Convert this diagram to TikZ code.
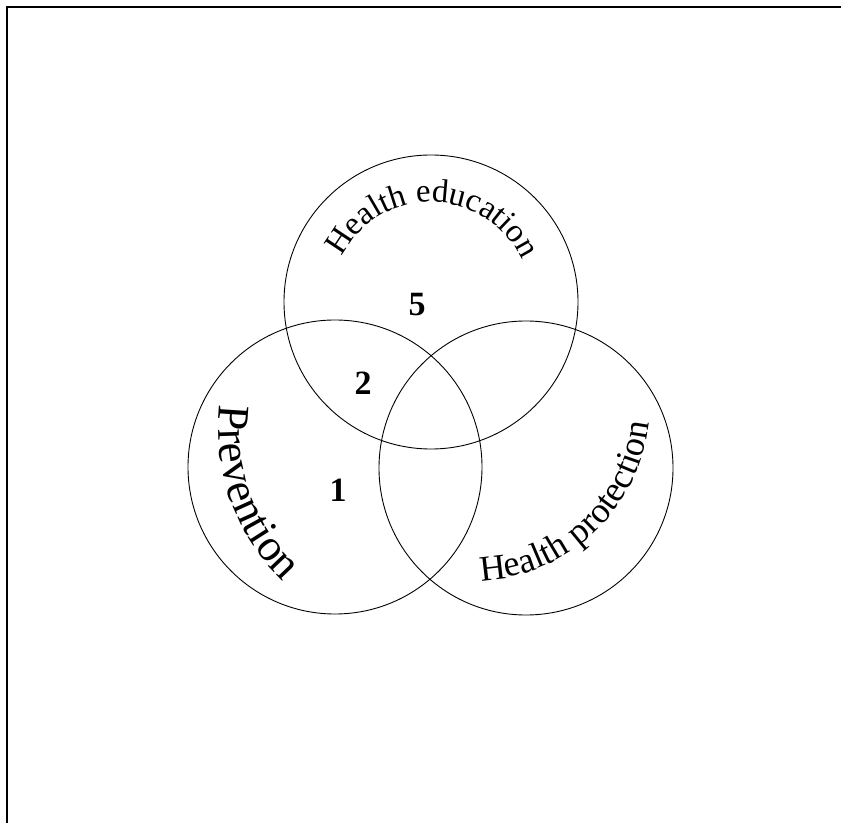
\documentclass[tikz,border=0pt]{standalone}
\usepackage{fontspec}
\setmainfont{Liberation Serif}
\usetikzlibrary{decorations.text}
\newcommand{\numtext}[1]{{\fontsize{34}{40}\selectfont\bfseries #1}}
\begin{document}
\begin{tikzpicture}[x=1pt,y=1pt,
  ring/.style={circle, draw, line width=0.9pt, minimum size=294pt, inner sep=0pt},
  num/.style={inner sep=0pt},
  frameline/.style={line width=2pt}]
\useasboundingbox (0,0) rectangle (841,823);
\coordinate (fbl) at (6.5,0);
\coordinate (ftl) at (6.5,816);
\coordinate (ftr) at (841,816);
\draw[frameline] (fbl) -- (ftl) -- (ftr);
\coordinate (T) at (431,521);
\coordinate (L) at (335,356);
\coordinate (R) at (526,355);
\coordinate (Q) at (473,419);
\coordinate (P) at (425.6,392.5);
\node[ring] (he) at (T) {};
\node[ring] (pv) at (L) {};
\node[ring] (hp) at (R) {};
\node[num] (n5) at (417,518) {\numtext{5}};
\node[num] (n2) at (363,440) {\numtext{2}};
\node[num] (n1) at (338,333) {\numtext{1}};
\path[decorate, decoration={text along path, text align=center,
  text={|\fontsize{33}{33}\selectfont|Health education}}]
  (T) ++(174:100) arc[start angle=174, end angle=4, radius=100];
\path[decorate, decoration={text along path, text align=center,
  text={|\fontsize{45}{45}\selectfont|Prevention}}]
  (P) ++(151:207) arc[start angle=151, end angle=248.5, radius=207];
\path[decorate, decoration={text along path, text align=center,
  text={|\fontsize{36}{36}\selectfont|Health protection}}]
  (Q) ++(258:177) arc[start angle=258, end angle=368.4, radius=177];
\end{tikzpicture}
\end{document}
